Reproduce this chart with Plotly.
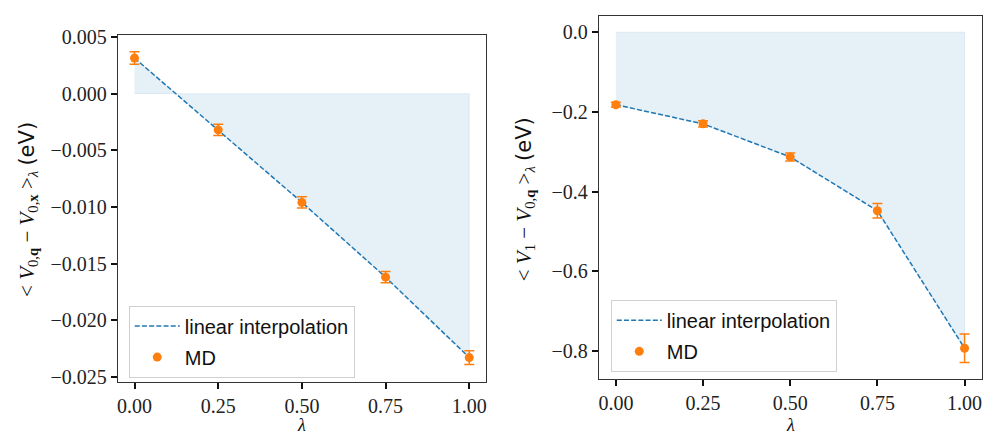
import plotly.graph_objects as go

# ---- data ----
lam = [0.0, 0.25, 0.5, 0.75, 1.0]
left_vals = [0.00314, -0.0032, -0.0096, -0.0162, -0.0233]
left_err = [0.00055, 0.0005, 0.0005, 0.0005, 0.0006]
right_vals = [-0.182, -0.230, -0.313, -0.448, -0.793]
right_err = [0.006, 0.008, 0.010, 0.018, 0.036]
left_yticks = [0.005, 0.0, -0.005, -0.010, -0.015, -0.020, -0.025]
right_yticks = [0.0, -0.2, -0.4, -0.6, -0.8]
xticks = [0.0, 0.25, 0.5, 0.75, 1.0]

BLUE = "#1f77b4"
ORANGE = "#ff7f0e"
FILL = "rgba(31,119,180,0.11)"
SERIF = "Liberation Serif, DejaVu Serif, serif"
SANS = "Liberation Sans, DejaVu Sans, sans-serif"

def fmt(v, d):
    s = f"{v:.{d}f}"
    if s.startswith("-"):
        s = "\u2212" + s[1:]
    return s

fig = go.Figure()

def add_panel(vals, errs, xa, ya, legend, tag):
    poly_x = lam + [lam[-1], lam[0]]
    poly_y = vals + [0.0, 0.0]
    fig.add_trace(go.Scatter(x=poly_x, y=poly_y, fill="toself", fillcolor=FILL,
                             line=dict(width=0.8, color="rgba(31,119,180,0.12)"),
                             mode="lines", showlegend=False, hoverinfo="skip",
                             xaxis=xa, yaxis=ya))
    fig.add_trace(go.Scatter(x=lam, y=vals, mode="lines", name="linear interpolation",
                             line=dict(color=BLUE, width=1.5, dash="5px,2.2px"),
                             xaxis=xa, yaxis=ya, legend=legend, legendgroup=tag + "a"))
    fig.add_trace(go.Scatter(x=lam, y=vals, mode="markers", name="MD",
                             marker=dict(color=ORANGE, size=9),
                             error_y=dict(type="data", array=errs, visible=True,
                                          color=ORANGE, thickness=1.5, width=5),
                             xaxis=xa, yaxis=ya, legend=legend, legendgroup=tag + "b"))

add_panel(left_vals, left_err, "x", "y", "legend", "L")
add_panel(right_vals, right_err, "x2", "y2", "legend2", "R")

W, H = 987, 443
axis_common = dict(showline=True, mirror=True, linecolor="#333", linewidth=1,
                   ticks="outside", ticklen=6, tickwidth=2, tickcolor="#111",
                   showgrid=False, zeroline=False,
                   tickfont=dict(family=SERIF, size=20, color="#222"))

legend_common = dict(xanchor="left", yanchor="top",
                     bordercolor="#d0d0d0", borderwidth=1, bgcolor="rgba(255,255,255,0.8)",
                     font=dict(family=SANS, size=20, color="#111"), tracegroupgap=2,
                     itemwidth=45)

fig.update_layout(
    width=W, height=H, margin=dict(l=0, r=0, t=0, b=0),
    paper_bgcolor="white", plot_bgcolor="white",
    xaxis=dict(domain=[117 / W, 486 / W], range=[-0.05, 1.05], anchor="y",
               tickvals=xticks, ticktext=[fmt(v, 2) for v in xticks], **axis_common),
    yaxis=dict(domain=[1 - 386 / H, 1 - 27 / H], range=[-0.02545, 0.00517], anchor="x",
               tickvals=left_yticks, ticktext=[fmt(v, 3) for v in left_yticks], **axis_common),
    xaxis2=dict(domain=[599 / W, 983 / W], range=[-0.049, 1.05], anchor="y2",
                tickvals=xticks, ticktext=[fmt(v, 2) for v in xticks], **axis_common),
    yaxis2=dict(domain=[1 - 383.3 / H, 1 - 7.3 / H], range=[-0.871, 0.0405], anchor="x2",
                tickvals=right_yticks, ticktext=[fmt(v, 1) for v in right_yticks], **axis_common),
    legend=dict(x=128 / W, y=1 - 307 / H, **legend_common),
    legend2=dict(x=611 / W, y=1 - 301 / H, **legend_common),
    showlegend=True,
)

ylab_left = ("&lt; <i>V</i><sub>0,<b>q</b></sub> \u2212 <i>V</i><sub>0,<b>x</b></sub> "
             "&gt;<sub><i>\u03bb</i></sub> <span style=\"font-family:DejaVu Sans\">(eV)</span>")
ylab_right = ("&lt; <i>V</i><sub>1</sub> \u2212 <i>V</i><sub>0,<b>q</b></sub> "
              "&gt;<sub><i>\u03bb</i></sub> <span style=\"font-family:DejaVu Sans\">(eV)</span>")

for x, y, txt in [(27 / W, 1 - 207 / H, ylab_left), (525 / W, 1 - 197 / H, ylab_right)]:
    fig.add_annotation(xref="paper", yref="paper", showarrow=False, x=x, y=y,
                       xanchor="center", yanchor="middle", text=txt, textangle=-90,
                       font=dict(family=SERIF, size=21, color="#111"))

for x in [301 / W, 791 / W]:
    fig.add_annotation(xref="paper", yref="paper", showarrow=False, x=x, y=1 - 431 / H,
                       xanchor="center", yanchor="middle", text="<i>\u03bb</i>",
                       borderpad=0, font=dict(family=SERIF, size=18, color="#111"))

fig.write_html("out.html")
